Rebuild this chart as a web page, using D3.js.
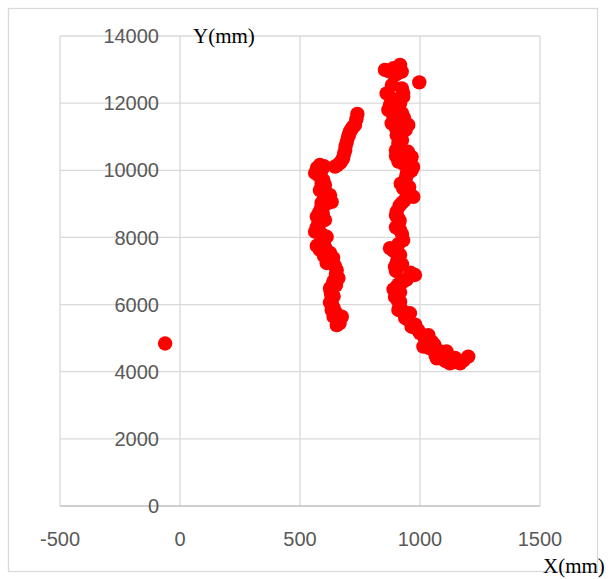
<!DOCTYPE html>
<html><head><meta charset="utf-8">
<script src="https://cdn.jsdelivr.net/npm/d3@7"></script>
<style>body{margin:0;background:#fff}svg{display:block}</style>
</head><body>
<script>
// Data (mm): [X, Y]
const xTicks = [-500, 0, 500, 1000, 1500];
const yTicks = [0, 2000, 4000, 6000, 8000, 10000, 12000, 14000];
const outlierPts = [[-62, 4840]];
const leftPts = [
  [739,11680],[735,11520],[729,11350],[722,11300],[717,11260],[712,11200],[708,11150],[704,11060],[700,10990],
  [695,10850],[690,10720],[688,10600],[684,10500],[680,10370],[675,10300],[667,10220],[655,10150],[646,10110],
  [600,10120],[583,10160],[571,10070],[590,10000],[563,9920],[578,9850],[597,9710],[590,9620],[604,9560],
  [598,9480],[583,9410],[610,9330],[625,9260],[600,9150],[632,9060],[590,9030],[610,9000],[588,8880],
  [580,8750],[595,8700],[570,8620],[604,8520],[585,8450],[575,8370],[570,8300],[563,8170],[590,8100],
  [611,8020],[600,7900],[596,7830],[570,7750],[605,7700],[583,7630],[625,7540],[600,7450],[638,7390],
  [620,7350],[611,7240],[645,7150],[653,7030],[650,6900],[660,6790],[640,6700],[638,6640],[650,6580],
  [625,6490],[628,6400],[629,6320],[640,6250],[632,6140],[625,6060],[633,5990],[640,5900],[632,5840],
  [650,5750],[674,5640],[640,5640],[663,5540],[665,5450],[653,5390]
];
const rightPts = [
  [854,12990],[870,12950],[889,13040],[910,13060],[917,13140],[924,12940],[905,12880],[896,12840],[997,12620],
  [883,12540],[924,12440],[930,12300],[861,12290],[930,12190],[880,12150],[915,12100],[917,12000],[875,11950],
  [903,11890],[868,11800],[925,11700],[888,11650],[933,11560],[905,11500],[935,11450],[882,11400],[951,11350],
  [900,11250],[940,11200],[910,11150],[903,11050],[925,10900],[910,10800],[917,10700],[900,10600],[950,10550],
  [938,10550],[900,10430],[965,10400],[960,10300],[910,10260],[930,10200],[971,10100],[965,10000],[958,9960],
  [945,9900],[942,9800],[938,9710],[920,9600],[955,9500],[930,9460],[950,9300],[972,9210],[935,9100],
  [925,9030],[915,8950],[903,8770],[900,8650],[908,8580],[915,8500],[910,8370],[900,8300],[917,8220],
  [925,8100],[930,7920],[910,7800],[875,7680],[890,7600],[917,7480],[910,7400],[904,7270],[925,7200],
  [896,7130],[900,7000],[960,6950],[979,6880],[945,6750],[930,6680],[910,6600],[903,6530],[890,6450],
  [917,6370],[896,6230],[905,6150],[917,6090],[915,5950],[910,5840],[930,5800],[958,5740],[938,5600],
  [950,5550],[980,5400],[965,5340],[992,5240],[1000,5150],[1035,5090],[1020,5000],[1050,4890],[1060,4800],
  [1014,4750],[1040,4700],[1083,4600],[1111,4600],[1095,4500],[1065,4480],[1070,4400],[1146,4410],
  [1105,4320],[1125,4250],[1140,4300],[1180,4330],[1167,4250],[1201,4450]
];

const W = 613, H = 579;
const svg = d3.select("body").append("svg").attr("width", W).attr("height", H);
const x = d3.scaleLinear().domain([-500, 1500]).range([60, 540]);
const y = d3.scaleLinear().domain([0, 14000]).range([506, 36]);

svg.append("rect").attr("x", 8.5).attr("y", 8.5).attr("width", 589).attr("height", 563)
  .attr("fill", "#fff").attr("stroke", "#d9d9d9").attr("stroke-width", 1.3);

const grid = svg.append("g");
grid.selectAll("line.v").data(xTicks).join("line")
  .attr("x1", d => x(d)).attr("x2", d => x(d)).attr("y1", y(0)).attr("y2", y(14000))
  .attr("stroke", "#d9d9d9").attr("stroke-width", 1.3);
grid.selectAll("line.h").data(yTicks).join("line")
  .attr("x1", x(-500)).attr("x2", x(1500)).attr("y1", d => y(d)).attr("y2", d => y(d))
  .attr("stroke", d => d === 0 ? "#bfbfbf" : "#d9d9d9").attr("stroke-width", 1.3);

const font = "Liberation Sans, Arial, sans-serif";
svg.append("g").selectAll("text").data(yTicks).join("text")
  .attr("x", x(0) - 21).attr("y", d => y(d)).attr("dy", "0.36em")
  .attr("text-anchor", "end").attr("font-family", font).attr("font-size", 20)
  .attr("fill", "#595959").text(d => d);
svg.append("g").selectAll("text").data(xTicks).join("text")
  .attr("x", d => x(d)).attr("y", 546)
  .attr("text-anchor", "middle").attr("font-family", font).attr("font-size", 20)
  .attr("fill", "#595959").text(d => d);

svg.append("text").attr("x", 193).attr("y", 43).attr("font-family", "Liberation Serif, Times New Roman, serif")
  .attr("font-size", 21).attr("fill", "#000").text("Y(mm)");
svg.append("text").attr("x", 543).attr("y", 573).attr("font-family", "Liberation Serif, Times New Roman, serif")
  .attr("font-size", 21).attr("fill", "#000").text("X(mm)");

const pts = outlierPts.concat(leftPts, rightPts);
svg.append("g").selectAll("circle").data(pts).join("circle")
  .attr("cx", d => x(d[0])).attr("cy", d => y(d[1])).attr("r", 7.2)
  .attr("fill", "#ff0000");
</script>
</body></html>
